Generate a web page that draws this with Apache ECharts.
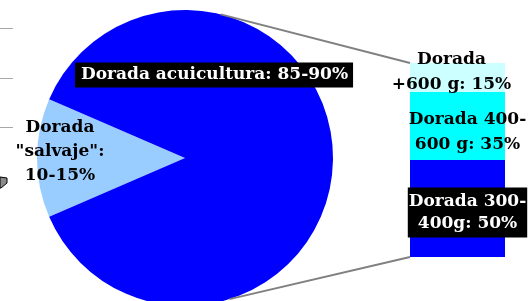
<!DOCTYPE html>
<html><head><meta charset="utf-8">
<script src="https://cdn.jsdelivr.net/npm/echarts@6/dist/echarts.min.js"></script>
<style>html,body{margin:0;padding:0;background:#fff;overflow:hidden}#c{width:530px;height:301px}</style>
</head><body><div id="c"></div>
<script>
// ---- data ----
const pieNames = ['Dorada "salvaje"', 'Dorada acuicultura'];
const pieValues = [13, 87];
const pieLabels = ['Dorada\n"salvaje":\n10-15%', 'Dorada acuicultura: 85-90%'];
const barCategories = ['Dorada acuicultura'];
const barNames = ['Dorada 300-400g', 'Dorada 400-600 g', 'Dorada +600 g'];
const barValues = [50, 35, 15];
const barLabels = ['Dorada 300-\n400g: 50%', 'Dorada 400-\n600 g: 35%', 'Dorada\n+600 g: 15%'];

// ---- layout / style ----
const FONT = '"DejaVu Serif", "Liberation Serif", serif';
const pieCenter = [185, 158], pieR = 148;
const grid = { left: 410, top: 63, width: 95, height: 194 };
const pieColors = ['#99CCFF', '#0000FF'];
const barColors = ['#0000FF', '#00FFFF', '#CCFFFF'];

const pieLabelStyle = [
  { color: '#000', lineHeight: 24, pos: [60, 152] },
  { color: '#fff', backgroundColor: '#000', padding: [4, 5, 3, 6], lineHeight: 18, pos: [214, 75] }
];
const barLabelStyle = [
  { color: '#fff', backgroundColor: '#000', padding: [3, 1, 3, 1], lineHeight: 22, offset: [10, 4] },
  { color: '#000', lineHeight: 25, offset: [10, 6] },
  { color: '#000', lineHeight: 25, offset: [-6, -5] }
];

const chart = echarts.init(document.getElementById('c'));

const barSeries = barValues.map((v, i) => ({
  type: 'bar', name: barNames[i], stack: 'total',
  xAxisIndex: 0, yAxisIndex: 0,
  barWidth: '100%',
  data: [v],
  itemStyle: { color: barColors[i] },
  label: Object.assign({
    show: true, position: 'inside',
    formatter: barLabels[i],
    fontFamily: FONT, fontWeight: 'bold', fontSize: 17, align: 'center'
  }, (({pos, ...rest}) => rest)(barLabelStyle[i])),
  emphasis: { disabled: true },
  silent: true
}));

chart.setOption({
  animation: false,
  backgroundColor: '#fff',
  grid: Object.assign({}, grid, { containLabel: false }),
  xAxis: { type: 'category', data: barCategories, show: false, boundaryGap: true },
  yAxis: { type: 'value', min: 0, max: 100, show: false },
  series: [
    {
      type: 'pie',
      center: pieCenter,
      radius: pieR,
      startAngle: 203.4,
      clockwise: true,
      silent: true,
      emphasis: { disabled: true },
      data: pieValues.map((v, i) => ({
        name: pieNames[i], value: v,
        itemStyle: { color: pieColors[i] },
        label: {
          show: true, position: 'inside',
          formatter: pieLabels[i],
          fontFamily: FONT, fontWeight: 'bold', fontSize: 17,
          color: pieLabelStyle[i].color,
          backgroundColor: pieLabelStyle[i].backgroundColor || 'transparent',
          padding: pieLabelStyle[i].padding || 0,
          lineHeight: pieLabelStyle[i].lineHeight,
          align: 'center', verticalAlign: 'middle'
        }
      })),
      labelLine: { show: false },
      labelLayout: (p) => ({ x: pieLabelStyle[p.dataIndex].pos[0], y: pieLabelStyle[p.dataIndex].pos[1], align: 'center', verticalAlign: 'middle' })
    },
    ...barSeries
  ]
});

// connector lines from the pie edge to the bar corners
const topCorner = chart.convertToPixel({ gridIndex: 0 }, [0, 100]);
const botCorner = chart.convertToPixel({ gridIndex: 0 }, [0, 0]);
const barLeft = grid.left;
function piePt(deg) {
  const a = deg * Math.PI / 180;
  return [pieCenter[0] + pieR * Math.cos(a), pieCenter[1] - pieR * Math.sin(a)];
}
const p1 = piePt(76), p2 = piePt(-72.5);
chart.setOption({
  graphic: [
    { type: 'line', shape: { x1: p1[0], y1: p1[1], x2: barLeft, y2: topCorner[1] }, style: { stroke: '#808080', lineWidth: 2 }, z: 10 },
    { type: 'line', shape: { x1: p2[0], y1: p2[1], x2: barLeft, y2: botCorner[1] }, style: { stroke: '#808080', lineWidth: 2 }, z: 10 },
    { type: 'line', shape: { x1: 0, y1: 28.5, x2: 13, y2: 28.5 }, style: { stroke: '#a8a8a8', lineWidth: 1 } },
    { type: 'line', shape: { x1: 0, y1: 78.5, x2: 13, y2: 78.5 }, style: { stroke: '#a8a8a8', lineWidth: 1 } },
    { type: 'line', shape: { x1: 0, y1: 127.5, x2: 13, y2: 127.5 }, style: { stroke: '#a8a8a8', lineWidth: 1 } },
    { type: 'polygon', shape: { points: [[0, 177], [7, 178], [7, 183], [1, 188], [0, 188]] }, style: { fill: '#8a8a8a', stroke: '#000', lineWidth: 1 } }
  ]
});
</script>
</body></html>
